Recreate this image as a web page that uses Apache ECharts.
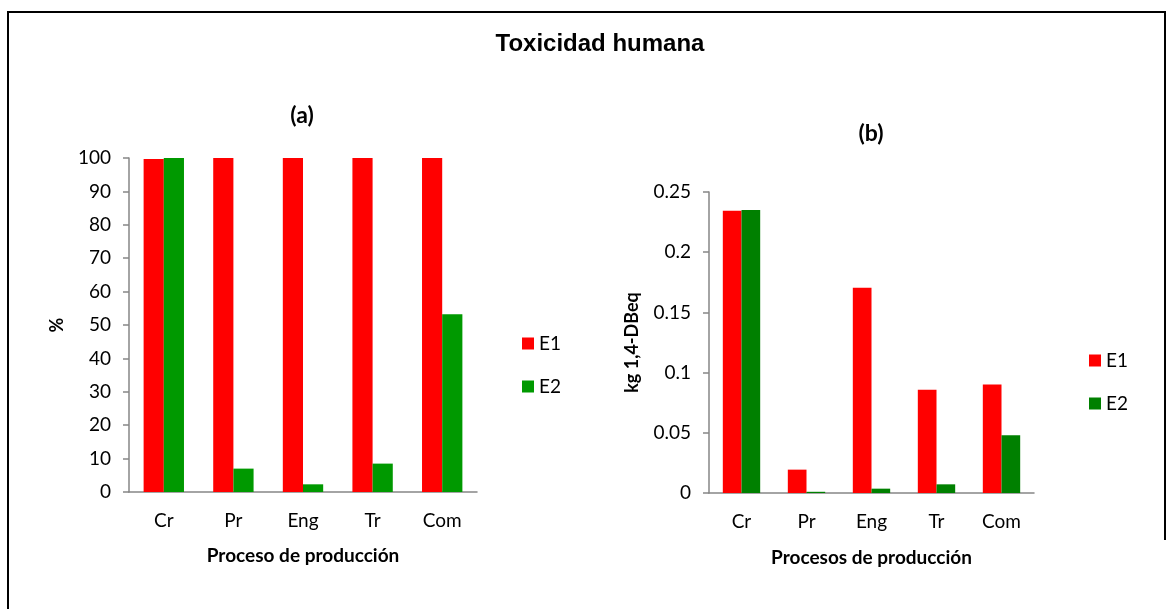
<!DOCTYPE html>
<html>
<head>
<meta charset="utf-8">
<script src="https://cdn.jsdelivr.net/npm/echarts@6/dist/echarts.min.js"></script>
<style>
html,body{margin:0;padding:0;background:#fff;}
#chart{width:1176px;height:609px;}
</style>
</head>
<body>
<div id="chart"></div>
<script>
// Processes on the x axis
const categories = ['Cr', 'Pr', 'Eng', 'Tr', 'Com'];
// (a) relative contribution, %
const pctE1 = [99.7, 100, 100, 100, 100];
const pctE2 = [100, 7, 2.3, 8.5, 53.2];
// (b) absolute values, kg 1,4-DB eq
const kgE1 = [0.2345, 0.0194, 0.1705, 0.0858, 0.0902];
const kgE2 = [0.235, 0.001, 0.0036, 0.0072, 0.0479];

const txtFont = 'Lato, "Open Sans", sans-serif';
const axisGrey = '#868686';

function valueAxis(gridIndex, max, interval, name, nameGap) {
  return {
    type: 'value', gridIndex, min: 0, max, interval,
    name, nameLocation: 'middle', nameGap,
    nameTextStyle: { fontFamily: txtFont, fontWeight: 'bold', fontSize: 18, color: '#000' },
    axisLine: { show: true, lineStyle: { color: axisGrey, width: 1.5 } },
    axisTick: { show: true, length: 6, lineStyle: { color: axisGrey, width: 1.5 } },
    axisLabel: { fontFamily: txtFont, fontSize: 19, color: '#000', margin: 18 },
    splitLine: { show: false }
  };
}
function catAxis(gridIndex, name, nameGap) {
  return {
    type: 'category', gridIndex, data: categories,
    name, nameLocation: 'middle', nameGap,
    nameTextStyle: { fontFamily: txtFont, fontWeight: 'bold', fontSize: 19, color: '#000' },
    axisLine: { lineStyle: { color: axisGrey, width: 1.5 } },
    axisTick: { show: false },
    axisLabel: { fontFamily: txtFont, fontSize: 19, color: '#000', margin: 19 }
  };
}

const chart = echarts.init(document.getElementById('chart'), null, { renderer: 'canvas' });
chart.setOption({
  backgroundColor: '#fff',
  animation: false,
  title: [
    { text: 'Toxicidad humana', left: 595, top: 27, textAlign: 'center',
      textStyle: { fontFamily: '"Liberation Sans", Arial, sans-serif', fontWeight: 'bold', fontSize: 24, color: '#000' } },
    { text: '(a)', left: 297, top: 99, textAlign: 'center',
      textStyle: { fontFamily: txtFont, fontWeight: 'bold', fontSize: 23, color: '#000' } },
    { text: '(b)', left: 866, top: 117, textAlign: 'center',
      textStyle: { fontFamily: txtFont, fontWeight: 'bold', fontSize: 23, color: '#000' } }
  ],
  legend: [
    { data: ['E1', 'E2'], left: 517, top: 329, orient: 'vertical', itemGap: 24,
      itemWidth: 12, itemHeight: 12, icon: 'rect',
      textStyle: { fontFamily: txtFont, fontSize: 19, color: '#000' } },
    { data: ['E1 ', 'E2 '], left: 1084, top: 346, orient: 'vertical', itemGap: 24,
      itemWidth: 12, itemHeight: 12, icon: 'rect',
      textStyle: { fontFamily: txtFont, fontSize: 19, color: '#000' } }
  ],
  grid: [
    { left: 129, right: 699, top: 158, bottom: 117 },
    { left: 709, right: 142, top: 192, bottom: 116 }
  ],
  xAxis: [catAxis(0, 'Proceso de producción', 54), catAxis(1, 'Procesos de producción', 55)],
  yAxis: [valueAxis(0, 100, 10, '%', 63), valueAxis(1, 0.25, 0.05, 'kg 1,4-DBeq', 68)],
  series: [
    { name: 'E1', type: 'bar', xAxisIndex: 0, yAxisIndex: 0, data: pctE1,
      barGap: '0%', barCategoryGap: '42%', itemStyle: { color: '#FF0000' } },
    { name: 'E2', type: 'bar', xAxisIndex: 0, yAxisIndex: 0, data: pctE2,
      barGap: '0%', barCategoryGap: '42%', itemStyle: { color: '#009900' } },
    { name: 'E1 ', type: 'bar', xAxisIndex: 1, yAxisIndex: 1, data: kgE1,
      barGap: '0%', barCategoryGap: '42.5%', itemStyle: { color: '#FF0000' } },
    { name: 'E2 ', type: 'bar', xAxisIndex: 1, yAxisIndex: 1, data: kgE2,
      barGap: '0%', barCategoryGap: '42.5%', itemStyle: { color: '#008000' } }
  ],
  graphic: [
    // outer frame: top, left and right edges
    { type: 'polyline', silent: true,
      shape: { points: [[8, 620], [8, 12], [1165, 12], [1165, 540]] },
      style: { stroke: '#000', lineWidth: 2, fill: null } }
  ]
});
</script>
</body>
</html>
